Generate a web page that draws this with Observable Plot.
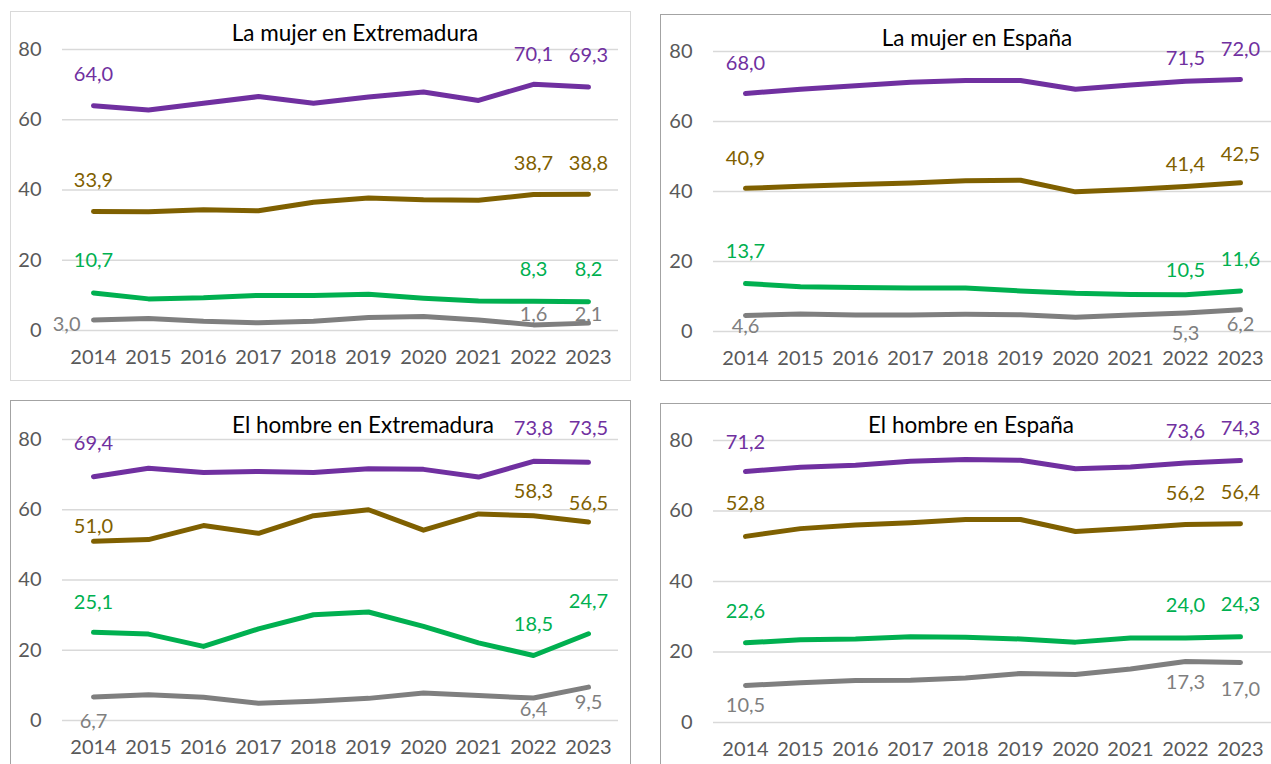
<!DOCTYPE html>
<html>
<head>
<meta charset="utf-8">
<script src="https://cdn.jsdelivr.net/npm/d3@7"></script>
<script src="https://cdn.jsdelivr.net/npm/@observablehq/plot@0.6"></script>
<style>
  html, body { margin: 0; padding: 0; background: #fff; overflow: hidden; width: 1271px; height: 764px; }
  .panel { position: absolute; box-sizing: border-box; background: #fff; }
  .panel svg { position: absolute; left: 0; top: 0; overflow: visible; }
  .title { position: absolute; font-family: Lato, "Open Sans", sans-serif; font-size: 22.5px; font-weight: 400; color: #000;
           white-space: nowrap; transform: translate(-50%, -50%); line-height: 1; }
</style>
</head>
<body>
<script>
// ---------- DATA ----------
const years = [2014, 2015, 2016, 2017, 2018, 2019, 2020, 2021, 2022, 2023];
const yTicks = [0, 20, 40, 60, 80];
const labelYears = [2014, 2022, 2023];

const panelTitles = ["La mujer en Extremadura", "La mujer en España", "El hombre en Extremadura", "El hombre en España"];

// La mujer en Extremadura
const mujerExtSerie1 = [64.0, 62.8, 64.7, 66.6, 64.7, 66.5, 67.9, 65.5, 70.1, 69.3];
const mujerExtSerie2 = [33.9, 33.8, 34.4, 34.1, 36.5, 37.7, 37.2, 37.1, 38.7, 38.8];
const mujerExtSerie3 = [10.7, 9.0, 9.3, 10.0, 10.0, 10.3, 9.2, 8.4, 8.3, 8.2];
const mujerExtSerie4 = [3.0, 3.4, 2.6, 2.2, 2.6, 3.7, 4.0, 3.0, 1.6, 2.1];

// La mujer en España
const mujerEspSerie1 = [68.0, 69.2, 70.2, 71.2, 71.7, 71.7, 69.2, 70.4, 71.5, 72.0];
const mujerEspSerie2 = [40.9, 41.5, 42.0, 42.4, 43.1, 43.2, 39.9, 40.6, 41.4, 42.5];
const mujerEspSerie3 = [13.7, 12.8, 12.6, 12.4, 12.4, 11.6, 10.9, 10.6, 10.5, 11.6];
const mujerEspSerie4 = [4.6, 5.0, 4.7, 4.7, 4.9, 4.8, 4.1, 4.7, 5.3, 6.2];

// El hombre en Extremadura
const hombreExtSerie1 = [69.4, 71.8, 70.6, 70.9, 70.6, 71.7, 71.5, 69.3, 73.8, 73.5];
const hombreExtSerie2 = [51.0, 51.5, 55.5, 53.3, 58.3, 60.0, 54.2, 58.8, 58.3, 56.5];
const hombreExtSerie3 = [25.1, 24.6, 21.1, 26.1, 30.1, 30.9, 26.8, 22.1, 18.5, 24.7];
const hombreExtSerie4 = [6.7, 7.3, 6.6, 4.9, 5.5, 6.3, 7.8, 7.1, 6.4, 9.5];

// El hombre en España
const hombreEspSerie1 = [71.2, 72.4, 73.0, 74.1, 74.6, 74.4, 72.0, 72.5, 73.6, 74.3];
const hombreEspSerie2 = [52.8, 55.0, 56.0, 56.7, 57.6, 57.6, 54.2, 55.1, 56.2, 56.4];
const hombreEspSerie3 = [22.6, 23.5, 23.7, 24.3, 24.2, 23.7, 22.8, 24.0, 24.0, 24.3];
const hombreEspSerie4 = [10.5, 11.3, 11.9, 12.0, 12.6, 13.9, 13.6, 15.2, 17.3, 17.0];

// ---------- STYLE ----------
const seriesColors = ["#7030a0", "#7f6000", "#00b050", "#7f7f7f"];
const FONT = "Lato, 'Open Sans', sans-serif";
const FS = 20;

// layout per panel (box geometry + margins)
const layouts = [
  {left: 10, top: 11, width: 621, height: 370, mt: 37, mb: 49, ml: 51, mr: 11, border: "#d9d9d9", tx: 355, ty: 33},
  {left: 660, top: 14, width: 622, height: 367, mt: 36, mb: 48, ml: 52, mr: 8, border: "#a3a3a3", tx: 977, ty: 38},
  {left: 10, top: 400, width: 621, height: 372, mt: 38, mb: 50, ml: 51, mr: 11, border: "#a3a3a3", tx: 363, ty: 425},
  {left: 660, top: 403, width: 622, height: 371, mt: 36, mb: 50, ml: 52, mr: 8, border: "#a3a3a3", tx: 971, ty: 425}
];

// label offsets (px) relative to each point, per panel / series / labelled year
const labelDy = [
  [[-31, -30, -31], [-31, -31, -31], [-32, -32, -32], [5, -10, -9]],
  [[-30, -23, -30], [-30, -22, -28], [-32, -24, -31], [11, 21, 15]],
  [[-33, -33, -34], [-15, -24, -18], [-30, -31, -32], [25, 12, 15]],
  [[-29, -31, -32], [-33, -31, -31], [-31, -32, -32], [20, 21, 27]]
];

const panels = [
  [mujerExtSerie1, mujerExtSerie2, mujerExtSerie3, mujerExtSerie4],
  [mujerEspSerie1, mujerEspSerie2, mujerEspSerie3, mujerEspSerie4],
  [hombreExtSerie1, hombreExtSerie2, hombreExtSerie3, hombreExtSerie4],
  [hombreEspSerie1, hombreEspSerie2, hombreEspSerie3, hombreEspSerie4]
];

const fmt = v => v.toFixed(1).replace(".", ",");

panels.forEach((series, p) => {
  const L = layouts[p];
  const div = document.createElement("div");
  div.className = "panel";
  Object.assign(div.style, {
    left: L.left + "px", top: L.top + "px", width: L.width + "px", height: L.height + "px",
    border: "1.5px solid " + L.border
  });
  document.body.appendChild(div);

  const marks = [
    Plot.gridY(yTicks, {stroke: "#d9d9d9", strokeOpacity: 1, strokeWidth: 1.5}),
    Plot.axisY(yTicks, {tickSize: 0, tickPadding: 21, color: "#595959", fontSize: FS, label: null,
      tickFormat: d => String(d)}),
    Plot.axisX(years, {tickSize: 0, tickPadding: 19, color: "#595959", fontSize: FS, label: null,
      tickFormat: d => String(d)})
  ];
  series.forEach((vals, s) => {
    const rows = years.map((yr, i) => ({year: yr, value: vals[i]}));
    marks.push(Plot.line(rows, {x: "year", y: "value", stroke: seriesColors[s], strokeWidth: 5,
      strokeLinejoin: "round", strokeLinecap: "round"}));
  });
  series.forEach((vals, s) => {
    labelYears.forEach((yr, k) => {
      const i = years.indexOf(yr);
      const row = [{year: yr, value: vals[i]}];
      const special = (p === 0 && s === 3 && k === 0); // left-positioned label
      marks.push(Plot.text(row, {
        x: "year", y: "value", text: d => fmt(d.value), fill: seriesColors[s],
        fontSize: FS, dy: labelDy[p][s][k],
        dx: special ? -13 : 0, textAnchor: special ? "end" : "middle"
      }));
    });
  });

  const chart = Plot.plot({
    width: L.width - 3,
    height: L.height - 3,
    marginTop: L.mt, marginBottom: L.mb, marginLeft: L.ml, marginRight: L.mr,
    style: {fontFamily: FONT, fontSize: FS + "px", background: "transparent", overflow: "visible"},
    x: {type: "point", domain: years, padding: 0.5, axis: null, label: null},
    y: {domain: [0, 80], axis: null, label: null},
    marks
  });
  div.appendChild(chart);

  const t = document.createElement("div");
  t.className = "title";
  t.textContent = panelTitles[p];
  t.style.left = L.tx + "px";
  t.style.top = L.ty + "px";
  document.body.appendChild(t);
});
</script>
</body>
</html>
